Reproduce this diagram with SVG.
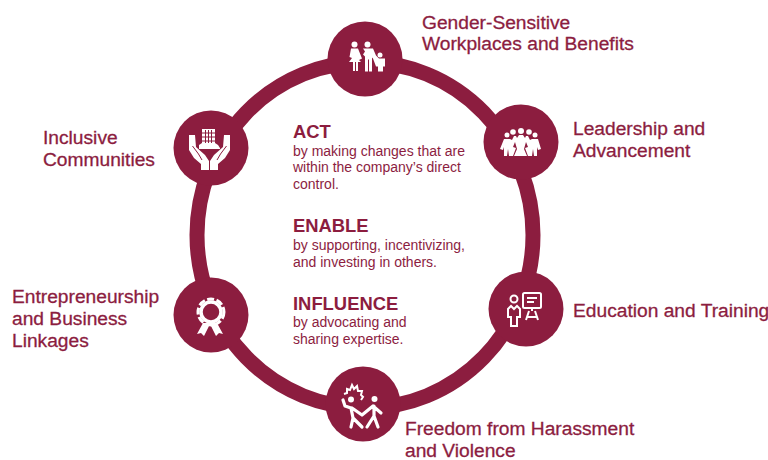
<svg xmlns="http://www.w3.org/2000/svg" width="768" height="460" viewBox="0 0 768 460">
<style>
.n{fill:#8c1d3f}
.ring{fill:none;stroke:#8c1d3f;stroke-width:15}
.l{font-family:"Liberation Sans",Arial,sans-serif;font-size:19.200px;fill:#8c1d3f;stroke:#8c1d3f;stroke-width:.3}
.h{font-family:"Liberation Sans",Arial,sans-serif;font-size:18.400px;font-weight:700;fill:#8c1d3f}
.b{font-family:"Liberation Sans",Arial,sans-serif;font-size:14px;fill:#8c1d3f}
.w{fill:#fff}
.o{fill:none;stroke:#fff;stroke-width:2}
.s{fill:none;stroke:#fff;stroke-width:3.200;stroke-linecap:round;stroke-linejoin:round}
.d{fill:none;stroke:#8c1d3f;stroke-width:1}
</style>
<defs>
<g id="hand">
<path class="w" d="M189 135h6l1 12 9 8 4 6v9h-8v-6l-7-6-5-8z"/>
<path class="d" d="M192.500 146l6 8 3.500 6" stroke-width="1.500"/>
</g>
</defs>
<rect width="768" height="460" fill="#fff"/>
<g id="connectors"><ellipse class="ring" cx="365" cy="235" rx="168" ry="173"/></g>
<g id="node-gender">
<circle class="n" cx="365" cy="59" r="37.5"/>
<circle class="w" cx="354.500" cy="44.500" r="3"/><circle class="w" cx="367.500" cy="44.500" r="3"/><circle class="w" cx="380" cy="55" r="2.500"/>
<path class="w" d="M351 48.500h7l4 10-3 1.500 2 2h-3v9h-2v-9h-1v9h-2v-9h-4l3-4-2.500-1z"/>
<path class="w" d="M363 48.500h10l3 7 3 3h6v8h-2v5h-5v-5h-2l-3-8-1-1v14h-3v-12h-1v12h-3v-15l-2-2 2-3z"/>
</g>
<g id="node-leadership">
<circle class="n" cx="521" cy="142" r="37.5"/>
<circle class="w" cx="521" cy="131" r="3"/><circle class="w" cx="513" cy="132" r="2.800"/><circle class="w" cx="529" cy="132" r="2.800"/><circle class="w" cx="507" cy="135" r="2.500"/><circle class="w" cx="535" cy="135" r="2.500"/>
<path class="w" d="M504 139h6l2 1 2-4h2l1 2 2-3h4l2 3 1-2h2l2 4 2-1h6l3 10-3 1-1-3v9h-3l-1-7-1 7h-4l-3-8 3-1-2-5-2 7 3 7h-13l3-7-2-7-2 5 3 1-3 8h-4l-1-7-1 7h-3v-9l-1 3-3-1z"/>
</g>
<g id="node-education">
<circle class="n" cx="526" cy="309" r="37.5"/>
<circle class="o" cx="514" cy="299" r="3.500"/>
<path class="o" d="M508 317v-8l3-3 3 3 3-3 3 3v8h-3v9h-6v-9z"/>
<rect class="o" x="523" y="293" width="18" height="15" rx="1.500"/>
<path class="o" d="M527 298h10M527 302h7M532 308v3M529 311l-3 9M535 311l3 9M527 317h10"/>
</g>
<g id="node-freedom">
<circle class="n" cx="363" cy="404" r="37.5"/>
<path class="o" d="M344 394l3-1 0-4 3 1 2-5 2 4 3-3 1 5 4 0-1 4 2 2-2 3"/>
<circle class="w" cx="351" cy="399.500" r="3"/><circle class="w" cx="374.500" cy="399" r="3"/>
<path class="s" d="M343 400l2 6 6 2 2 10-2 9M353 418l9 9M352 408l10 7 11-9 8 7M374 406v10l-7 11M374 416l4 11"/>
</g>
<g id="node-entrepreneurship">
<circle class="n" cx="211" cy="315" r="37.5"/>
<path class="w" d="M203 323l-6 11 4-1 3 3 5-10 1-1 1 1 5 10 3-3 4 1-6-11z"/>
<circle fill="none" stroke="#fff" stroke-width="3" stroke-dasharray="7 2.500" cx="211" cy="312" r="13"/>
<circle fill="#8c1d3f" stroke="#fff" stroke-width="3.500" cx="211" cy="312" r="10"/>
</g>
<g id="node-inclusive">
<circle class="n" cx="211" cy="148" r="37.500"/>
<rect class="w" x="202" y="129" width="13" height="16"/>
<path class="d" d="M205.500 130v14M208.500 130v14M211.500 130v14M202 133h13M202 137h13M202 141h13"/>
<path class="w" d="M199 145l3-2h13l3 2 2 3v1h-21v-1z"/>
<use href="#hand"/>
<use href="#hand" transform="translate(419 0) scale(-1 1)"/>
</g>
<g id="label-gender"><text class="l" x="422" y="29">Gender-Sensitive</text><text class="l" x="422" y="50">Workplaces and Benefits</text></g>
<g id="label-leadership"><text class="l" x="573" y="135">Leadership and</text><text class="l" x="573" y="157">Advancement</text></g>
<g id="label-education"><text class="l" x="573" y="317">Education and Training</text></g>
<g id="label-freedom"><text class="l" x="405" y="435">Freedom from Harassment</text><text class="l" x="405" y="457">and Violence</text></g>
<g id="label-entrepreneurship"><text class="l" x="12" y="303">Entrepreneurship</text><text class="l" x="12" y="325">and Business</text><text class="l" x="12" y="347">Linkages</text></g>
<g id="label-inclusive"><text class="l" x="43" y="144">Inclusive</text><text class="l" x="43" y="166">Communities</text></g>
<g id="center-text">
<text class="h" x="293" y="138">ACT</text>
<text class="b" x="293" y="156">by making changes that are</text>
<text class="b" x="293" y="172">within the company’s direct</text>
<text class="b" x="293" y="189">control.</text>
<text class="h" x="293" y="232">ENABLE</text>
<text class="b" x="293" y="250">by supporting, incentivizing,</text>
<text class="b" x="293" y="267">and investing in others.</text>
<text class="h" x="293" y="310">INFLUENCE</text>
<text class="b" x="293" y="327">by advocating and</text>
<text class="b" x="293" y="344">sharing expertise.</text>
</g>
</svg>
